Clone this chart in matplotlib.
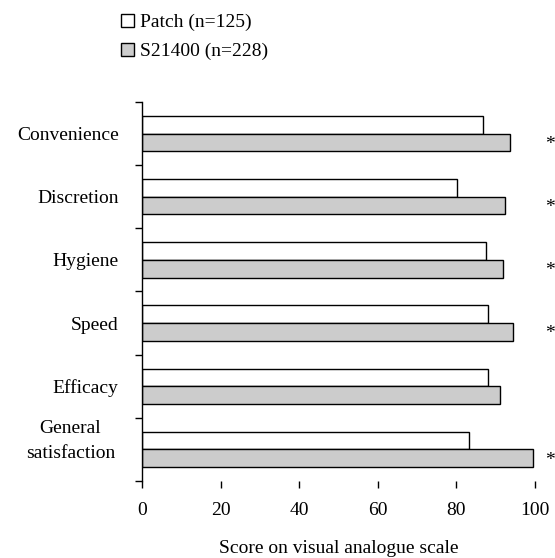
import matplotlib

matplotlib.use("Agg")
import matplotlib.pyplot as plt
import matplotlib.transforms as mtransforms
import numpy as np
from matplotlib.patches import Patch

plt.rcParams["font.family"] = ["Liberation Serif", "DejaVu Serif"]

categories = ["Convenience", "Discretion", "Hygiene", "Speed", "Efficacy",
              "General\nsatisfaction"]
patch_scores = [86.8, 80.2, 87.5, 88.1, 88.1, 83.3]
s21400_scores = [93.6, 92.4, 91.9, 94.3, 91.1, 99.6]
significant = [True, True, True, True, False, True]
series_labels = ["Patch (n=125)", "S21400 (n=228)"]
xticks = [0, 20, 40, 60, 80, 100]

GREY = "#cccccc"
FS = 14

fig = plt.figure(figsize=(5.55, 5.58), dpi=100)
ax = fig.add_axes([0.2564, 0.138, 0.7076, 0.6792])

y = np.arange(len(categories))
h = 0.28
ax.barh(y - h / 2, patch_scores, height=h, color="white", edgecolor="black", linewidth=1)
ax.barh(y + h / 2, s21400_scores, height=h, color=GREY, edgecolor="black", linewidth=1)

# significance markers beside the S21400 bars
for yi, sig in zip(y, significant):
    if sig:
        ax.text(102.5, yi + h / 2 + 0.03, "*", fontsize=FS, ha="left", va="center",
                clip_on=False)

ax.set_xlim(0, 100)
ax.set_ylim(len(categories) - 0.5, -0.5)

ax.set_xticks(xticks)
ax.set_xticklabels([str(v) for v in xticks], fontsize=FS)
ax.tick_params(axis="x", length=5, width=1, pad=10, direction="out")

# boundary ticks (major) + category labels (minor, no tick mark)
ax.set_yticks(np.arange(len(categories) + 1) - 0.5)
ax.set_yticklabels([])
ax.tick_params(axis="y", which="major", length=5, width=1, direction="out")
ax.set_yticks(y[:-1], minor=True)
ax.set_yticklabels(categories[:-1], minor=True, fontsize=FS)
ax.tick_params(axis="y", which="minor", length=0, pad=17)

# two-line label for the last category, centred and set a little high
trans = mtransforms.blended_transform_factory(ax.transAxes, ax.transData)
ax.text(-0.183, y[-1] - 0.13, categories[-1], transform=trans, fontsize=FS,
        ha="center", va="center", multialignment="center", linespacing=1.65)

for side in ("top", "right", "bottom"):
    ax.spines[side].set_visible(False)
ax.spines["left"].set_linewidth(1)

ax.set_xlabel("Score on visual analogue scale", fontsize=FS, labelpad=15)

handles = [Patch(facecolor="white", edgecolor="black", linewidth=1),
           Patch(facecolor=GREY, edgecolor="black", linewidth=1)]
fig.legend(handles, series_labels, loc="upper left", bbox_to_anchor=(0.194, 1.0),
           frameon=False, fontsize=FS, handlelength=0.65, handleheight=0.65,
           handletextpad=0.3, labelspacing=0.6, borderaxespad=0.3)

fig.savefig("out.png", dpi=100)
